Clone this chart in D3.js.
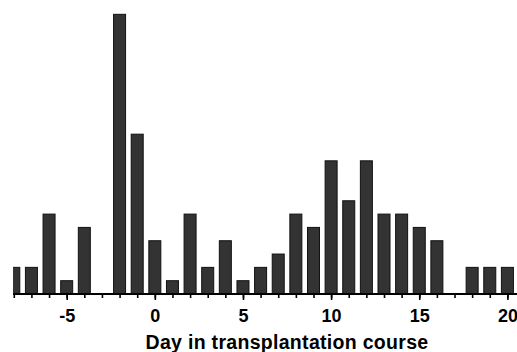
<!DOCTYPE html>
<html>
<head>
<meta charset="utf-8">
<script src="https://cdn.jsdelivr.net/npm/d3@7"></script>
<style>
  body { margin: 0; background: #fff; }
  svg { display: block; font-family: "Liberation Sans", Arial, Helvetica, sans-serif; }
</style>
</head>
<body>
<svg id="chart" width="517" height="352"></svg>
<script>
// days in transplantation course and counts per day
const days = [-8,-7,-6,-5,-4,-3,-2,-1,0,1,2,3,4,5,6,7,8,9,10,11,12,13,14,15,16,17,18,19,20];
const counts = [2,2,6,1,5,0,21,12,4,1,6,2,4,1,2,3,6,5,10,7,10,6,6,5,4,0,2,2,2];
const tickLabels = [-5,0,5,10,15,20];
const xTitle = "Day in transplantation course";

const width = 517, height = 352;
const svg = d3.select("#chart");

const x = d3.scaleLinear().domain([-8, 20]).range([13.8, 507.4]);
const y = d3.scaleLinear().domain([0, 22]).range([294, 1]);
const barW = 12;

svg.append("clipPath").attr("id","plotclip")
  .append("rect").attr("x",13).attr("y",0).attr("width",width-13).attr("height",295);

svg.append("g").attr("clip-path","url(#plotclip)")
  .selectAll("rect").data(days).join("rect")
  .attr("x", d => x(d) - barW/2)
  .attr("y", (d,i) => y(counts[i]))
  .attr("width", barW)
  .attr("height", (d,i) => y(0) - y(counts[i]))
  .attr("fill", "#333")
  .attr("stroke", "#111")
  .attr("stroke-width", 1);

// minor ticks every day
const ax = svg.append("g").attr("transform", `translate(0,${y(0)})`);
ax.call(d3.axisBottom(x).tickValues(days).tickSize(4).tickFormat(""))
  .call(g => g.select(".domain").remove())
  .call(g => g.selectAll("line").attr("stroke","#000").attr("stroke-width",1.6));

// major ticks with labels (plain hyphen for negatives)
const ax2 = svg.append("g").attr("transform", `translate(0,${y(0)})`);
ax2.call(d3.axisBottom(x).tickValues(tickLabels).tickSize(6).tickPadding(9).tickFormat(d => String(d)))
  .call(g => g.select(".domain").remove())
  .call(g => g.selectAll("line").attr("stroke","#000").attr("stroke-width",1.6))
  .call(g => g.selectAll("text").attr("fill","#000").attr("font-size",18).attr("font-weight","bold")
    .attr("font-family","Liberation Sans, Arial, sans-serif"));

svg.append("line")
  .attr("x1", 13).attr("x2", width)
  .attr("y1", y(0)).attr("y2", y(0))
  .attr("stroke", "#000").attr("stroke-width", 2);

svg.append("text")
  .attr("x", 287).attr("y", 349)
  .attr("text-anchor", "middle")
  .attr("font-size", 19.5).attr("font-weight", "bold")
  .attr("letter-spacing", 0.3)
  .attr("fill", "#000")
  .text(xTitle);
</script>
</body>
</html>
